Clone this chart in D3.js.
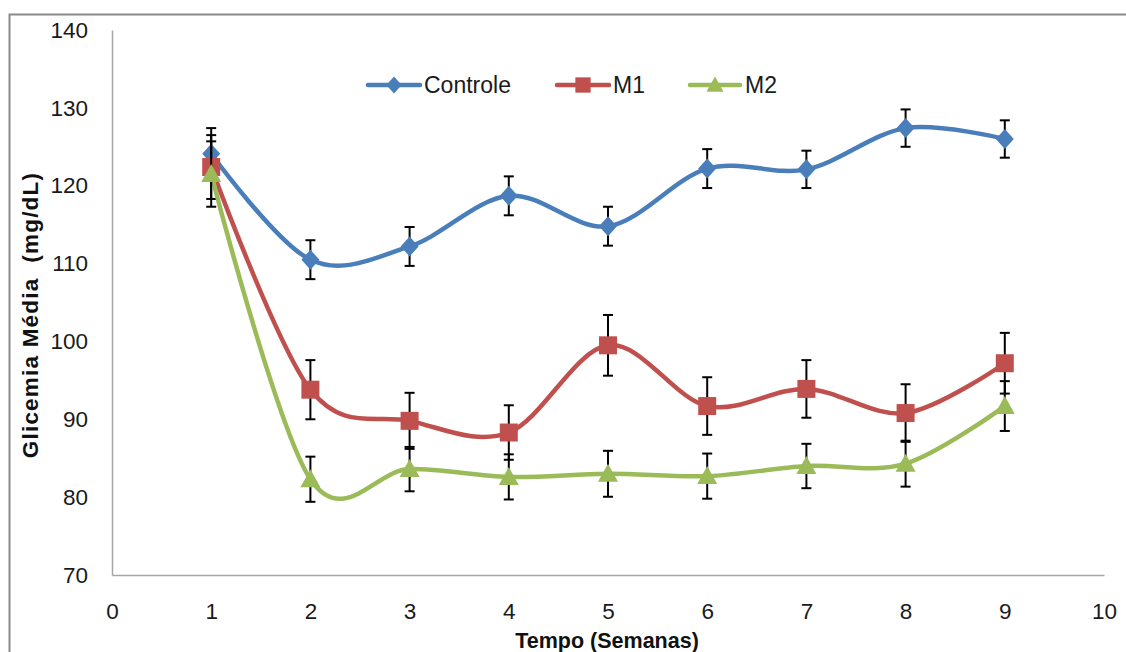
<!DOCTYPE html>
<html>
<head>
<meta charset="utf-8">
<script src="https://cdn.jsdelivr.net/npm/d3@7"></script>
<style>
  html, body { margin: 0; padding: 0; background: #fff; }
  svg { display: block; }
</style>
</head>
<body>
<svg id="chart" width="1126" height="652"></svg>
<script>
// ---- data ----
const weeks = [1, 2, 3, 4, 5, 6, 7, 8, 9];
const controle    = [124.1, 110.5, 112.2, 118.7, 114.8, 122.2, 122.1, 127.4, 126.0];
const controleErr = [3.3, 2.5, 2.5, 2.5, 2.5, 2.5, 2.4, 2.4, 2.4];
const m1    = [122.4, 93.8, 89.8, 88.3, 99.5, 91.7, 93.9, 90.8, 97.2];
const m1Err = [4.1, 3.8, 3.6, 3.5, 3.9, 3.7, 3.7, 3.7, 3.9];
const m2    = [121.5, 82.3, 83.6, 82.6, 83.0, 82.7, 84.0, 84.3, 91.7];
const m2Err = [4.2, 2.9, 2.85, 2.9, 2.95, 2.9, 2.85, 2.95, 3.2];
const seriesNames = ["Controle", "M1", "M2"];
const xTicks = [0, 1, 2, 3, 4, 5, 6, 7, 8, 9, 10];
const yTicks = [70, 80, 90, 100, 110, 120, 130, 140];
const xTitle = "Tempo (Semanas)";
const yTitle = "Glicemia Média  (mg/dL)";

// ---- setup ----
const svg = d3.select("#chart");
const font = "'Liberation Sans', Arial, sans-serif";
const x = d3.scaleLinear().domain([0, 10]).range([112, 1104]);
const y = d3.scaleLinear().domain([70, 140]).range([575, 30]);

// outer chart border
svg.append("path")
  .attr("d", "M9.5,652 L9.5,14.5 L1126,14.5")
  .attr("fill", "none").attr("stroke", "#8a8a8a").attr("stroke-width", 2);

// axes
const xAxis = svg.append("g").attr("transform", `translate(0,${y(70)})`)
  .call(d3.axisBottom(x).tickValues(xTicks).tickSize(0).tickPadding(28).tickFormat(d3.format("d")));
const yAxis = svg.append("g").attr("transform", `translate(${x(0)},0)`)
  .call(d3.axisLeft(y).tickValues(yTicks).tickSize(0).tickPadding(24).tickFormat(d3.format("d")));
[xAxis, yAxis].forEach(g => {
  g.select(".domain").attr("stroke", "#a6a6a6").attr("stroke-width", 1.5);
  g.selectAll("text").attr("font-family", font).attr("font-size", 22.5).attr("fill", "#1a1a1a");
});
xAxis.selectAll("text").attr("dy", "0.71em");

// titles
svg.append("text").attr("x", 607).attr("y", 648)
  .attr("text-anchor", "middle").attr("font-family", font).attr("font-weight", "bold")
  .attr("font-size", 21.5).attr("fill", "#111").text(xTitle);
svg.append("text").attr("transform", "translate(38,315) rotate(-90)")
  .attr("text-anchor", "middle").attr("font-family", font).attr("font-weight", "bold")
  .attr("font-size", 22.5).attr("letter-spacing", 1.2).style("white-space", "pre")
  .attr("fill", "#111").text(yTitle);

// series
const series = [
  { name: seriesNames[0], vals: controle, err: controleErr, color: "#4a7ebb", shape: "diamond" },
  { name: seriesNames[1], vals: m1, err: m1Err, color: "#c0504d", shape: "square" },
  { name: seriesNames[2], vals: m2, err: m2Err, color: "#9bbb59", shape: "triangle" }
];

function markerPath(shape) {
  if (shape === "diamond") return "M0,-10 L9,0 L0,10 L-9,0 Z";
  if (shape === "square") return "M-9,-9 L9,-9 L9,9 L-9,9 Z";
  return "M0,-10 L10,8 L-10,8 Z";
}

const line = d3.line().x(d => x(d[0])).y(d => y(d[1])).curve(d3.curveCardinal.tension(0));

series.forEach(s => {
  const pts = weeks.map((w, i) => [w, s.vals[i], s.err[i]]);
  const g = svg.append("g");
  g.append("path").datum(pts).attr("d", line)
    .attr("fill", "none").attr("stroke", s.color).attr("stroke-width", 4.5)
    .attr("stroke-linejoin", "round");
  // error bars
  const eb = g.append("g").attr("stroke", "#000").attr("stroke-width", 2);
  pts.forEach(p => {
    const cx = x(p[0]);
    eb.append("line").attr("x1", cx).attr("x2", cx).attr("y1", y(p[1] - p[2])).attr("y2", y(p[1] + p[2]));
    eb.append("line").attr("x1", cx - 5).attr("x2", cx + 5).attr("y1", y(p[1] + p[2])).attr("y2", y(p[1] + p[2]));
    eb.append("line").attr("x1", cx - 5).attr("x2", cx + 5).attr("y1", y(p[1] - p[2])).attr("y2", y(p[1] - p[2]));
  });
  g.selectAll(".mk").data(pts).enter().append("path")
    .attr("d", markerPath(s.shape))
    .attr("transform", d => `translate(${x(d[0])},${y(d[1])})`)
    .attr("fill", s.color);
});

// legend
const legendItems = [
  { x0: 368, x1: 420, tx: 424 },
  { x0: 557, x1: 609, tx: 613 },
  { x0: 690, x1: 740, tx: 745 }
];
const ly = 85;
series.forEach((s, i) => {
  const L = legendItems[i];
  svg.append("line").attr("x1", L.x0).attr("x2", L.x1).attr("y1", ly).attr("y2", ly)
    .attr("stroke", s.color).attr("stroke-width", 4.5).attr("stroke-linecap", "round");
  svg.append("path").attr("d", markerPath(s.shape))
    .attr("transform", `translate(${(L.x0 + L.x1) / 2},${ly}) scale(0.85)`)
    .attr("fill", s.color);
  svg.append("text").attr("x", L.tx).attr("y", ly).attr("dy", "0.36em")
    .attr("font-family", font).attr("font-size", 23).attr("fill", "#1a1a1a").text(s.name);
});
</script>
</body>
</html>
